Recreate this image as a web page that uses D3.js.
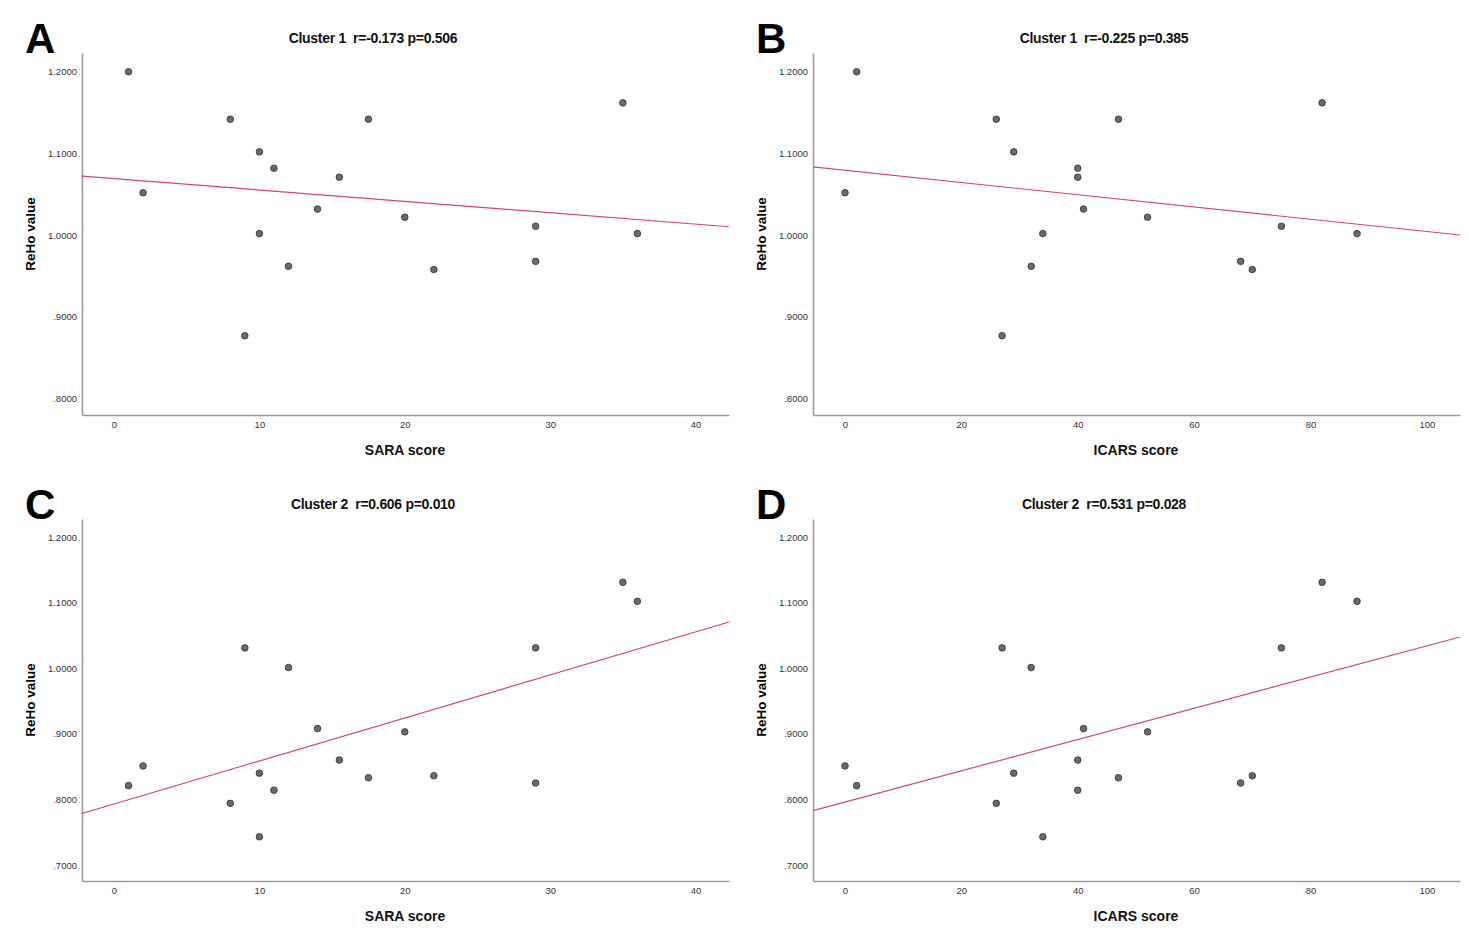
<!DOCTYPE html>
<html>
<head>
<meta charset="utf-8">
<script src="https://cdn.jsdelivr.net/npm/d3@7/dist/d3.min.js"></script>
<style>
  body { margin: 0; background: #fff; }
  text { font-family: "Liberation Sans", Arial, sans-serif; }
</style>
</head>
<body>
<div id="chart"></div>
<script>
var width = 1469,
    height = 937;

// one entry per subject
var sara     = [1, 2, 8, 9, 10, 10, 11, 12, 14, 15.5, 17.5, 20, 22, 29, 29, 35, 36];
var icars    = [2, 0, 26, 27, 29, 34, 40, 32, 41, 40, 47, 52, 70, 68, 75, 82, 88];
var cluster1 = [1.200, 1.052, 1.142, 0.877, 1.102, 1.002, 1.082, 0.962, 1.032, 1.071, 1.142, 1.022, 0.958, 0.968, 1.011, 1.162, 1.002];
var cluster2 = [0.821, 0.851, 0.794, 1.031, 0.840, 0.743, 0.814, 1.001, 0.908, 0.860, 0.833, 0.903, 0.836, 0.825, 1.031, 1.131, 1.102];

var saraTicks  = [0, 10, 20, 30, 40];
var icarsTicks = [0, 20, 40, 60, 80, 100];
var c1Ticks = [0.8, 0.9, 1.0, 1.1, 1.2];
var c2Ticks = [0.7, 0.8, 0.9, 1.0, 1.1, 1.2];

var panels = [
  {letter: "A", title: "Cluster 1  r=-0.173 p=0.506", xs: sara,  ys: cluster1, xLabel: "SARA score",  xDom: [-2.2, 42.3],  xTicks: saraTicks,  yDom: [0.780, 1.223], yTicks: c1Ticks, ox: 0,   oy: 0},
  {letter: "B", title: "Cluster 1  r=-0.225 p=0.385", xs: icars, ys: cluster1, xLabel: "ICARS score", xDom: [-5.5, 105.7], xTicks: icarsTicks, yDom: [0.780, 1.223], yTicks: c1Ticks, ox: 731, oy: 0},
  {letter: "C", title: "Cluster 2  r=0.606 p=0.010",  xs: sara,  ys: cluster2, xLabel: "SARA score",  xDom: [-2.2, 42.3],  xTicks: saraTicks,  yDom: [0.6756, 1.2275], yTicks: c2Ticks, ox: 0,   oy: 466},
  {letter: "D", title: "Cluster 2  r=0.531 p=0.028",  xs: icars, ys: cluster2, xLabel: "ICARS score", xDom: [-5.5, 105.7], xTicks: icarsTicks, yDom: [0.6756, 1.2275], yTicks: c2Ticks, ox: 731, oy: 466}
];

var plotL = 82, plotR = 729, plotT = 53, plotB = 415;

var svg = d3.select("#chart").append("svg")
    .attr("width", width)
    .attr("height", height)

var fmt = function(d) { return d3.format(".4f")(d).replace(/^0/, ""); };

panels.forEach(function(p) {
  var g = svg.append("g").attr("transform", "translate(" + p.ox + "," + p.oy + ")");

  var x = d3.scaleLinear().domain(p.xDom).range([plotL, plotR]);
  var y = d3.scaleLinear().domain(p.yDom).range([plotB, plotT]);

  /* axes: no tick marks, just the grey line and labels */
  var xAxis = g.append("g")
      .attr("transform", "translate(0," + plotB + ")")
      .call(d3.axisBottom(x).tickValues(p.xTicks).tickSize(0).tickPadding(6).tickFormat(d3.format("d")));
  var yAxis = g.append("g")
      .attr("transform", "translate(" + plotL + ",0)")
      .call(d3.axisLeft(y).tickValues(p.yTicks).tickSize(0).tickPadding(5).tickFormat(fmt));

  [xAxis, yAxis].forEach(function(a) {
    a.select(".domain").attr("stroke", "#9a9a9a").attr("stroke-width", 1.6);
    a.selectAll("text").attr("fill", "#333").style("font-size", "9.5px")
      .style("font-family", "'Liberation Sans', Arial, sans-serif");
  });

  /* least squares fit line */
  var data = p.xs.map(function(v, i) { return {x: v, y: p.ys[i]}; });
  var mx = d3.mean(data, function(d) { return d.x; }),
      my = d3.mean(data, function(d) { return d.y; });
  var slope = d3.sum(data, function(d) { return (d.x - mx) * (d.y - my); }) /
              d3.sum(data, function(d) { return (d.x - mx) * (d.x - mx); });
  var icpt = my - slope * mx;
  g.append("line")
      .attr("x1", x(p.xDom[0])).attr("y1", y(icpt + slope * p.xDom[0]))
      .attr("x2", x(p.xDom[1])).attr("y2", y(icpt + slope * p.xDom[1]))
      .attr("stroke", "#d84470")
      .attr("stroke-width", 1.2);

  g.selectAll("circle.pt")
      .data(data)
      .enter().append("circle")
      .attr("class", "pt")
      .attr("cx", function(d) { return x(d.x); })
      .attr("cy", function(d) { return y(d.y); })
      .attr("r", 3.3)
      .attr("fill", "#6a6a6a")
      .attr("stroke", "#2e2e2e")
      .attr("stroke-width", 0.8);

  g.append("text")
      .attr("x", 373).attr("y", 43)
      .attr("text-anchor", "middle")
      .style("white-space", "pre")
      .style("font-size", "14px")
      .style("font-weight", "bold")
      .style("letter-spacing", "-0.3px")
      .attr("fill", "#111")
      .text(p.title);

  g.append("text")
      .attr("x", 405).attr("y", 455)
      .attr("text-anchor", "middle")
      .style("font-size", "14px")
      .style("font-weight", "bold")
      .attr("fill", "#111")
      .text(p.xLabel);

  g.append("text")
      .attr("transform", "translate(35,234) rotate(-90)")
      .attr("text-anchor", "middle")
      .style("font-size", "13.5px")
      .style("font-weight", "bold")
      .text("ReHo value");

  g.append("text")
      .attr("x", 25).attr("y", 53)
      .style("font-size", "42px")
      .style("font-weight", "bold")
      .text(p.letter);
});
</script>
</body>
</html>
